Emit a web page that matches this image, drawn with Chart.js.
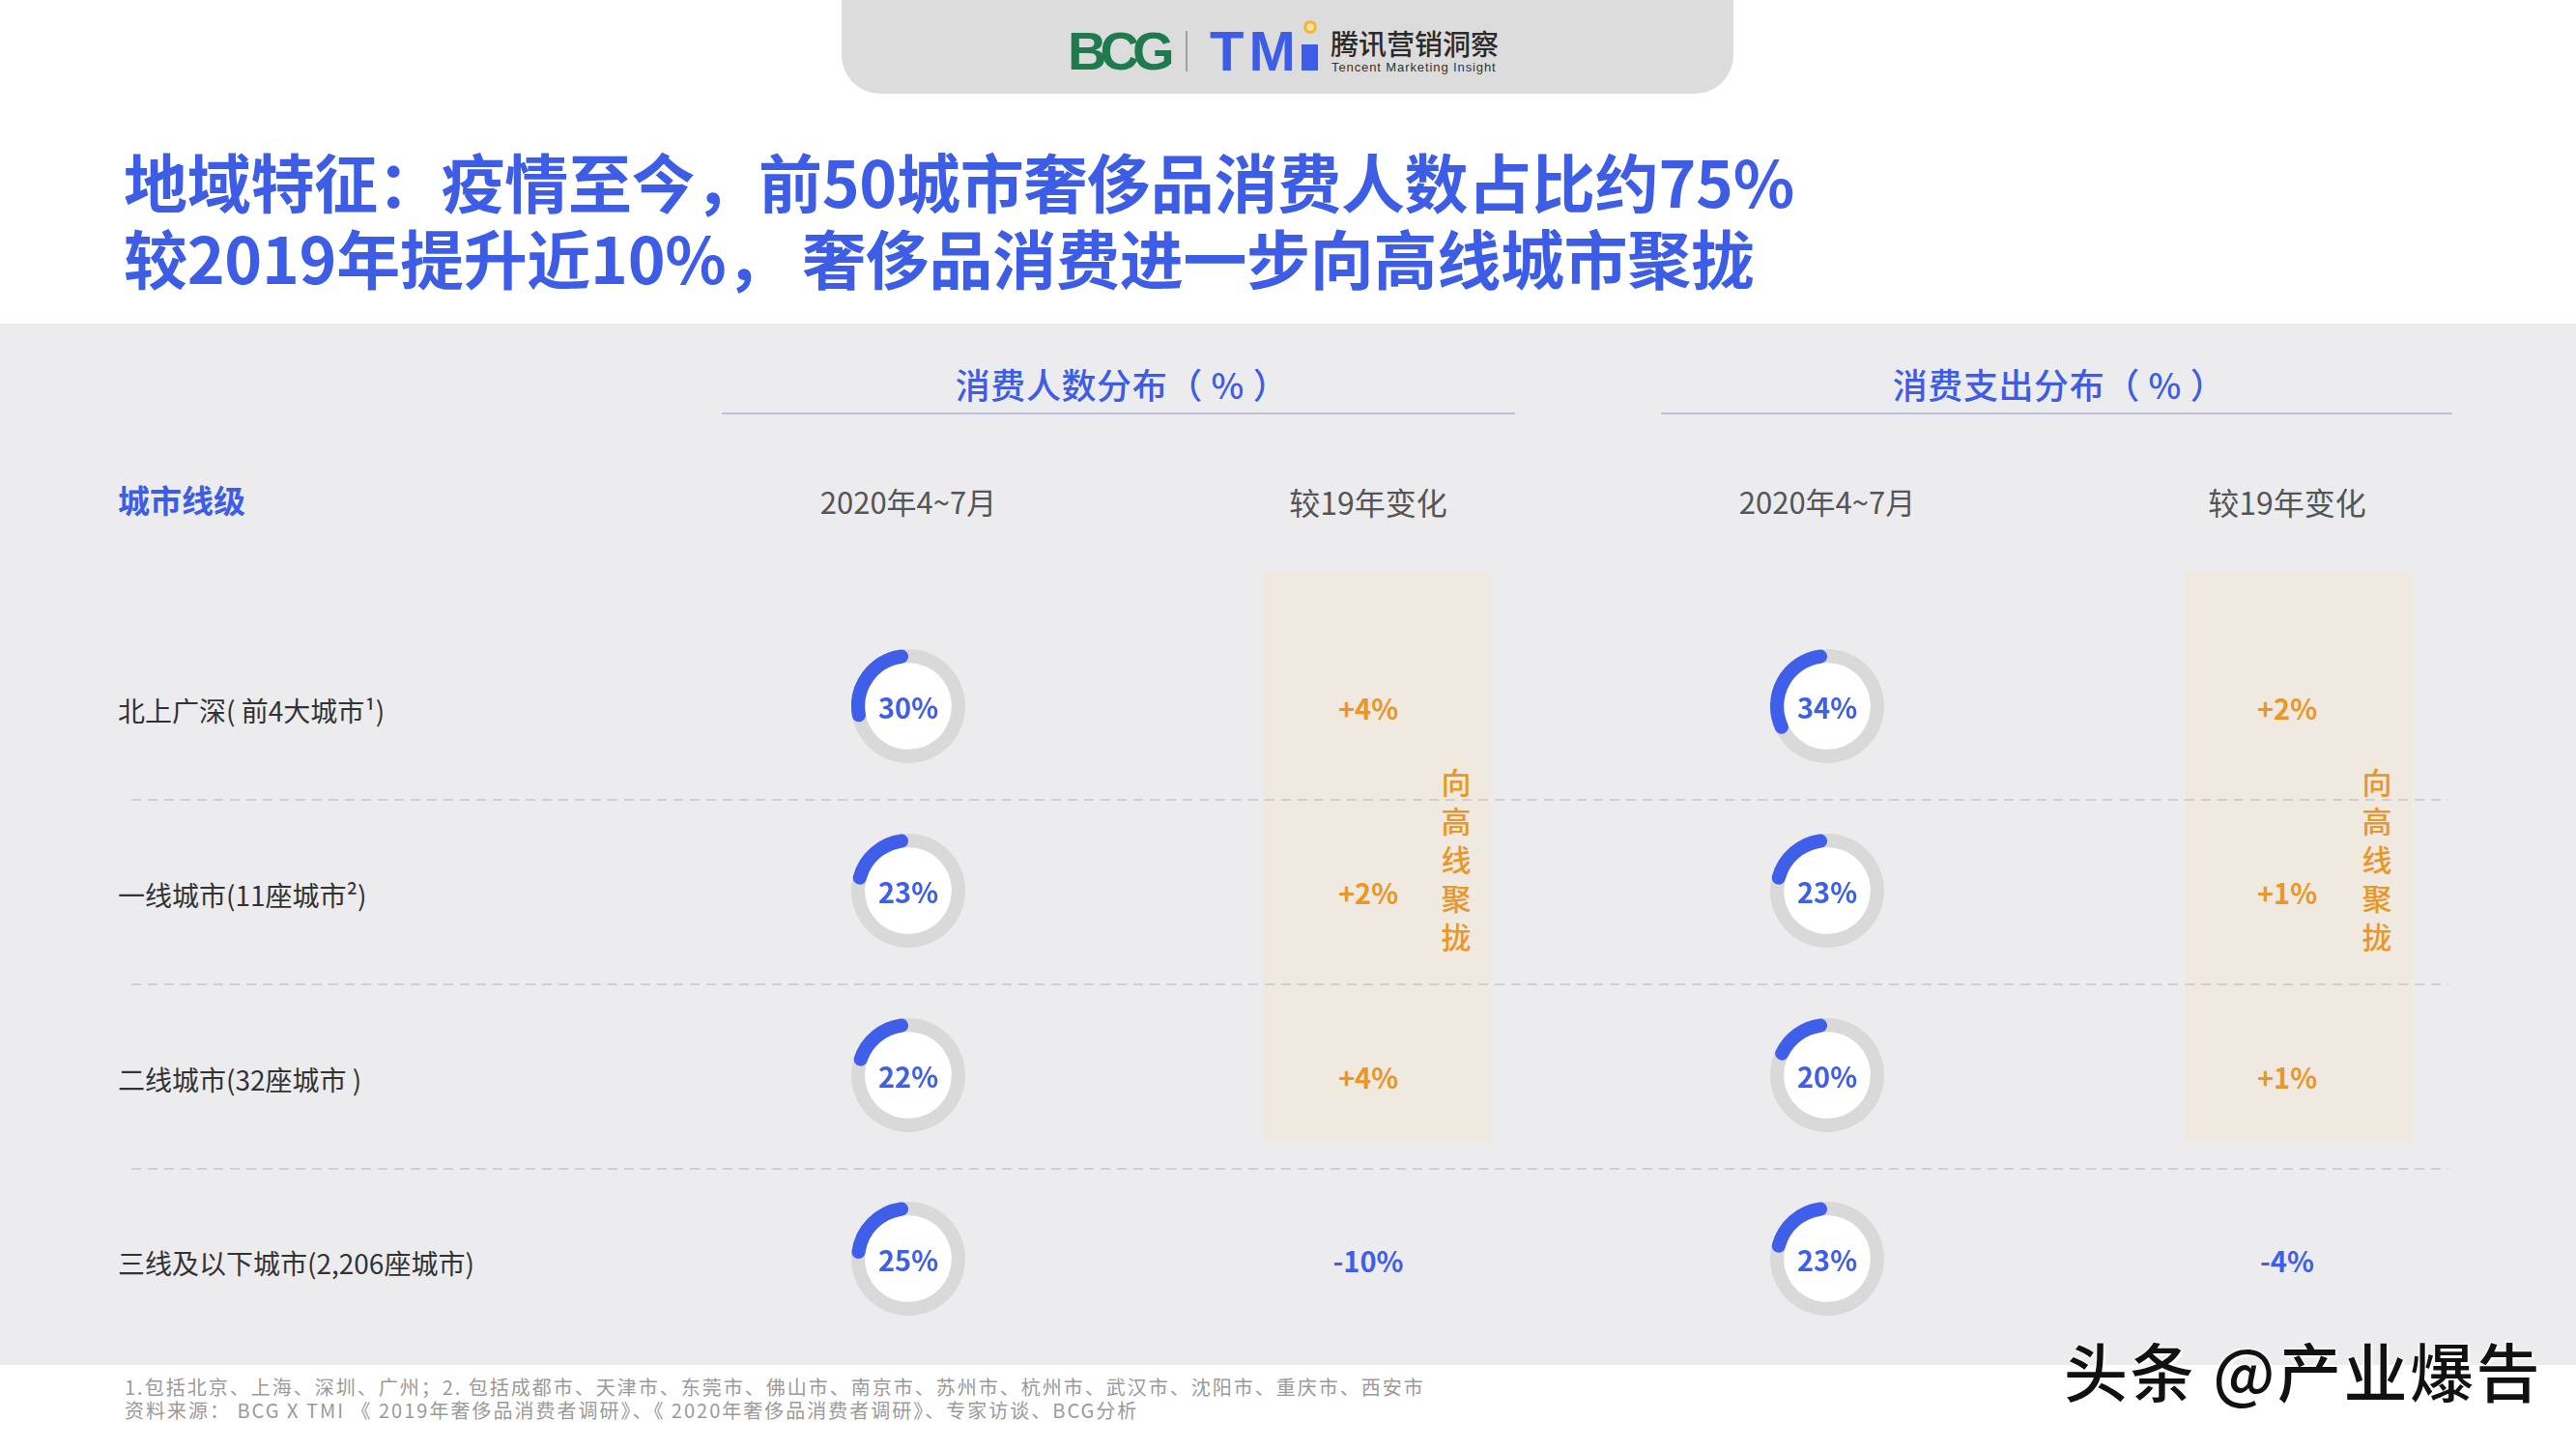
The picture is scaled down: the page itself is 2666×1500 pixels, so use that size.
<!DOCTYPE html>
<html lang="zh-CN">
<head>
<meta charset="utf-8">
<title>地域特征</title>
<script src="https://cdn.jsdelivr.net/npm/chart.js@4.4.1/dist/chart.umd.min.js"></script>
<style>
  html, body { margin: 0; padding: 0; background: #fff; }
  body {
    width: 2666px; height: 1500px; position: relative; overflow: hidden;
    font-family: "Noto Sans CJK SC", "Noto Sans", sans-serif;
  }
  .abs { position: absolute; white-space: nowrap; }
  .mid { transform: translate(-50%, -50%); line-height: 1.2; }
  .vmid { transform: translateY(-50%); line-height: 1.2; }
  .dash {
    position: absolute; height: 2px;
    background: repeating-linear-gradient(to right, #cfcfd1 0 10px, transparent 10px 17px);
  }
  canvas.ring { position: absolute; }
</style>
</head>
<body>

<!-- header logo bar -->
<div class="abs" style="left:871px;top:-2px;width:923px;height:99px;background:#dcdcdc;border-radius:0 0 40px 40px;"></div>
<div class="abs" style="left:1105px;top:25px;font:bold 56px 'Liberation Sans';line-height:56px;color:#1f7a4d;letter-spacing:-7px;">BCG</div>
<div class="abs" style="left:1227px;top:32px;width:2px;height:42px;background:#a0a0a0;"></div>
<div class="abs" style="left:1252px;top:24px;font:bold 58px 'Liberation Sans';line-height:58px;color:#3d5de8;letter-spacing:5px;">TM</div>
<div class="abs" style="left:1347px;top:46px;width:17px;height:27px;background:#3d5de8;"></div>
<div class="abs" style="left:1349px;top:21px;width:14px;height:14px;border-radius:50%;background:radial-gradient(circle,#fbe3a0 0 35%,#f3b73e 40%);"></div>
<div class="abs" style="left:1377px;top:30px;font-size:29px;line-height:29px;color:#2b2b2b;font-weight:500;">腾讯营销洞察</div>
<div class="abs" style="left:1378px;top:63px;font:13px 'Liberation Sans';line-height:13px;color:#333;letter-spacing:0.9px;">Tencent Marketing Insight</div>

<!-- title -->
<div class="abs" style="left:128px;top:153px;font-size:66px;line-height:66px;font-weight:700;color:#3d5de6;letter-spacing:-0.3px;">地域特征：疫情至今，前50城市奢侈品消费人数占比约75%</div>
<div class="abs" style="left:128px;top:232px;font-size:66px;line-height:66px;font-weight:700;color:#3d5de6;letter-spacing:-0.3px;">较2019年提升近10%，&#8201;奢侈品消费进一步向高线城市聚拢</div>

<!-- grey panel -->
<div class="abs" style="left:0;top:335px;width:2666px;height:1078px;background:#ececee;"></div>

<div id="stage"></div>

<!-- footnotes -->
<div class="abs" style="left:129px;top:1424px;font-size:20px;line-height:24px;color:#9a9a9a;letter-spacing:2px;">1.包括北京、上海、深圳、广州；2. 包括成都市、天津市、东莞市、佛山市、南京市、苏州市、杭州市、武汉市、沈阳市、重庆市、西安市</div>
<div class="abs" style="left:129px;top:1448px;font-size:20px;line-height:24px;color:#9a9a9a;letter-spacing:2px;">资料来源： BCG X TMI 《 2019年奢侈品消费者调研》、《 2020年奢侈品消费者调研》、专家访谈、BCG分析</div>
<div class="abs vmid" style="left:2136px;top:1418px;font-size:66px;font-weight:500;letter-spacing:2.5px;color:#111;text-shadow:0 0 3px #fff,0 0 3px #fff,2px 2px 2px #fff;">头条 @产业爆告</div>

<script>
// ---- data ----
const cities = ['北上广深( 前4大城市¹)', '一线城市(11座城市²)', '二线城市(32座城市 )', '三线及以下城市(2,206座城市)'];
const peopleShare = [30, 23, 22, 25];
const peopleChange = [4, 2, 4, -10];
const spendShare = [34, 23, 20, 23];
const spendChange = [2, 1, 1, -4];
const groupTitles = ['消费人数分布（ % ）', '消费支出分布（ % ）'];
const subTitles = ['2020年4~7月', '较19年变化'];
const rowHeader = '城市线级';
const trendNote = '向高线聚拢';

const BLUE = '#3f5ee9';
const ORANGE = '#e8972b';
const TRACK = '#d9d9d9';

const stage = document.getElementById('stage');
function put(html, style, cls) {
  const d = document.createElement('div');
  d.className = 'abs ' + (cls || '');
  d.style.cssText = style;
  d.innerHTML = html;
  stage.appendChild(d);
  return d;
}

// column layout
const groups = [
  { share: peopleShare, change: peopleChange, ringX: 940, changeX: 1416, titleX: 1161, lineL: 747, lineW: 821, bandL: 1307, noteX: 1507 },
  { share: spendShare, change: spendChange, ringX: 1891, changeX: 2367, titleX: 2131, lineL: 1719, lineW: 819, bandL: 2261, noteX: 2460 }
];
const rowY = [731, 922, 1113, 1303];

// highlight bands
groups.forEach(g => {
  put('', `left:${g.bandL}px;top:592px;width:236px;height:590px;background:#efe9df;`);
});
// dashed separators
[827, 1018, 1209].forEach(y => {
  const d = document.createElement('div');
  d.className = 'dash';
  d.style.cssText = `left:136px;top:${y}px;width:2398px;`;
  stage.appendChild(d);
});

// headers
put(rowHeader, 'left:122px;top:518px;font-size:33px;font-weight:700;color:#3d5de6;', 'vmid');
groups.forEach((g, i) => {
  put(groupTitles[i], `left:${g.titleX}px;top:398px;font-size:36px;font-weight:500;color:#3d5de6;letter-spacing:0.6px;`, 'mid');
  put('', `left:${g.lineL}px;top:427px;width:${g.lineW}px;height:2px;background:#bcc1e4;`);
  put(subTitles[0], `left:${g.ringX}px;top:519px;font-size:31px;color:#555;`, 'mid');
  put(subTitles[1], `left:${g.changeX}px;top:519px;font-size:32px;color:#555;`, 'mid');
  // vertical note, one glyph per line
  trendNote.split('').forEach((ch, k) => {
    put(ch, `left:${g.noteX}px;top:${809 + k * 40}px;font-size:31px;font-weight:500;color:${ORANGE};`, 'mid');
  });
});

// row labels and change values
cities.forEach((c, r) => {
  put(c, `left:122px;top:${rowY[r] + 5}px;font-size:28px;color:#333;`, 'vmid');
  groups.forEach(g => {
    const v = g.change[r];
    put((v > 0 ? '+' : '') + v + '%', `left:${g.changeX}px;top:${rowY[r] + 1}px;font-size:29px;font-weight:700;color:${v > 0 ? ORANGE : BLUE};`, 'mid');
  });
});

// ring gauge: grey track + white face behind, value label on top
const ringTrack = {
  id: 'ringTrack',
  beforeDatasetsDraw(chart) {
    const arc = chart.getDatasetMeta(0).data[1];
    const ctx = chart.ctx;
    ctx.save();
    ctx.beginPath();
    ctx.arc(arc.x, arc.y, arc.outerRadius, 0, Math.PI * 2);
    ctx.fillStyle = TRACK;
    ctx.fill();
    ctx.beginPath();
    ctx.arc(arc.x, arc.y, arc.innerRadius, 0, Math.PI * 2);
    ctx.fillStyle = '#fff';
    ctx.fill();
    ctx.restore();
  },
  afterDatasetsDraw(chart) {
    const arc = chart.getDatasetMeta(0).data[1];
    const ctx = chart.ctx;
    ctx.save();
    ctx.font = 'bold 29px "Noto Sans CJK SC"';
    ctx.fillStyle = BLUE;
    ctx.textAlign = 'center';
    ctx.textBaseline = 'middle';
    ctx.fillText(chart.data.datasets[0].data[1] + '%', arc.x, arc.y + 2);
    ctx.restore();
  }
};

const SIZE = 118;
groups.forEach(g => {
  g.share.forEach((v, r) => {
    const cv = document.createElement('canvas');
    cv.className = 'ring';
    cv.width = SIZE; cv.height = SIZE;
    cv.style.left = (g.ringX - SIZE / 2) + 'px';
    cv.style.top = (rowY[r] - SIZE / 2) + 'px';
    stage.appendChild(cv);
    // remainder first (transparent), so the blue arc runs anticlockwise from 12 o'clock
    new Chart(cv, {
      type: 'doughnut',
      data: {
        labels: ['其他', '占比'],
        datasets: [{
          data: [100 - v, v],
          backgroundColor: ['rgba(0,0,0,0)', BLUE],
          borderWidth: 0,
          borderRadius: [0, 7],
          hoverOffset: 0
        }]
      },
      options: {
        responsive: false,
        animation: false,
        events: [],
        cutout: '76%',
        plugins: { legend: { display: false }, tooltip: { enabled: false } }
      },
      plugins: [ringTrack]
    });
  });
});
</script>
</body>
</html>
